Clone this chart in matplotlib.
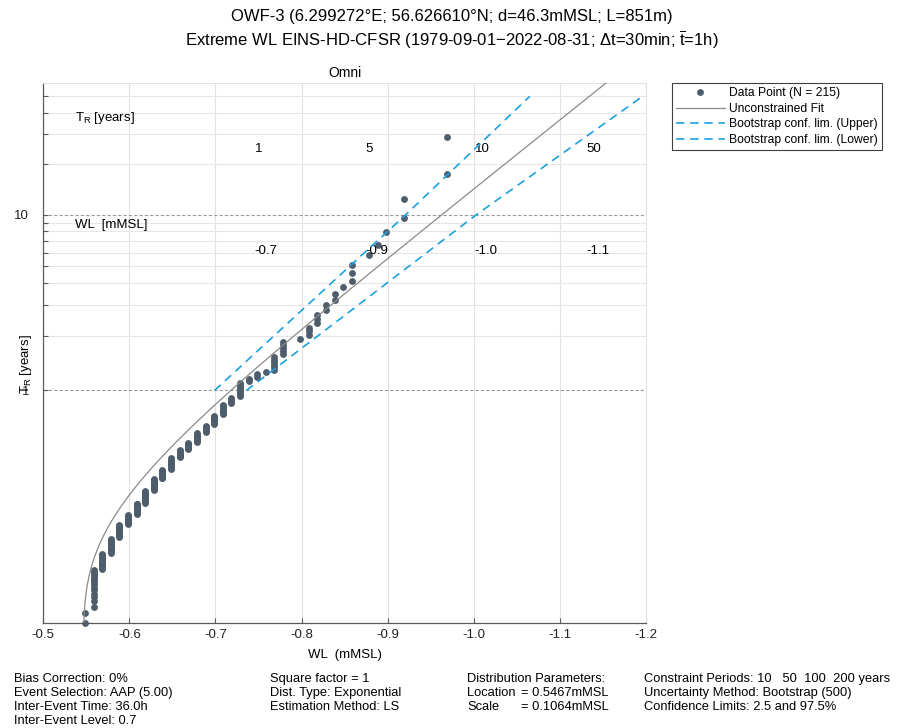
import numpy as np
import matplotlib
matplotlib.use("Agg")
import matplotlib.pyplot as plt
from matplotlib.ticker import FixedLocator, FixedFormatter, NullFormatter

plt.rcParams['font.family'] = ['Liberation Sans', 'DejaVu Sans']
plt.rcParams['mathtext.fontset'] = 'custom'
plt.rcParams['mathtext.rm'] = 'Liberation Sans'
plt.rcParams['mathtext.it'] = 'Liberation Sans:italic'
plt.rcParams['axes.unicode_minus'] = False

# ---------------- data ----------------
wl_levels = [-0.5485, -0.5585, -0.5685, -0.5785, -0.5885, -0.5985, -0.6085, -0.6185,
             -0.6285, -0.6385, -0.6485, -0.6585, -0.6685, -0.6785, -0.6885, -0.6985,
             -0.7085, -0.7185, -0.7285, -0.7385, -0.7485, -0.7585, -0.7685, -0.7785,
             -0.7985, -0.8085, -0.8185, -0.8285, -0.8385, -0.8485, -0.8585, -0.8785,
             -0.8885, -0.8985, -0.9185, -0.9685]
level_counts = [2, 14, 11, 13, 13, 11, 12, 14,
                12, 10, 11, 8, 6, 8, 6, 7,
                7, 4, 8, 2, 2, 1, 6, 5,
                1, 3, 3, 2, 2, 1, 3, 1,
                1, 1, 2, 2]

events_per_year = 5.0          # AAP (5.00)
plot_pos_offset = 1.5          # plotting position F = i / (N + offset)
fit_location = 0.5467          # mMSL
fit_scale = 0.1064             # mMSL
fit_T_max = 60.0

ci_T = [1, 10, 50]
ci_upper = [-0.699, -0.921, -1.065]
ci_lower = [-0.736, -1.003, -1.196]

label_periods = [1, 5, 10, 50]

x_ticks = [-0.5, -0.6, -0.7, -0.8, -0.9, -1.0, -1.1, -1.2]
y_major = [1, 10]
y_minor = [2, 3, 4, 5, 6, 7, 8, 9, 20, 30, 40, 50]

title_lines = ["OWF-3 (6.299272\u00b0E; 56.626610\u00b0N; d=46.3mMSL; L=851m)",
               "Extreme WL EINS-HD-CFSR (1979-09-01\u22122022-08-31; \u0394t=30min; $\\overline{\\mathrm{t}}$=1h)"]

info_col1 = ["Bias Correction: 0%", "Event Selection: AAP (5.00)",
             "Inter-Event Time: 36.0h", "Inter-Event Level: 0.7"]
info_col2 = ["Square factor = 1", "Dist. Type: Exponential", "Estimation Method: LS"]
info_col3 = ["Distribution Parameters:", "Location", "Scale"]
info_col3b = ["", "= 0.5467mMSL", "= 0.1064mMSL"]
info_col4 = ["Constraint Periods: 10   50  100  200 years",
             "Uncertainty Method: Bootstrap (500)",
             "Confidence Limits: 2.5 and 97.5%"]

# ---------------- derived ----------------
lam = events_per_year
wl = np.repeat(np.array(wl_levels), level_counts)
N = wl.size
rank = np.arange(1, N + 1)
F = rank / (N + plot_pos_offset)
T_data = 1.0 / (lam * (1.0 - F))


def fwd(T):
    T = np.asarray(T, dtype=float)
    with np.errstate(all='ignore'):
        p = np.clip(1.0 / (lam * T), 1e-300, 1 - 1e-15)
        return -np.log(-np.log1p(-p))


def inv(y):
    y = np.asarray(y, dtype=float)
    with np.errstate(all='ignore'):
        p = -np.expm1(-np.exp(-y))
        return 1.0 / (lam * p)


T_fit = np.geomspace(T_data.min(), fit_T_max, 600)
x_fit = -(fit_location + fit_scale * np.log(lam * T_fit))

# ---------------- figure ----------------
W, H = 904, 728
fig = plt.figure(figsize=(W / 100, H / 100), dpi=100)
ax = fig.add_axes([43.2 / W, (H - 623.3) / H, (646 - 43.2) / W, (623.3 - 83) / H])
ax.set_yscale('function', functions=(fwd, inv))
ax.set_xlim(-0.5, -1.2)
ax.set_ylim(T_data.min(), fit_T_max)

gray_dark = '#5a5a5a'
blue = '#1ba1e2'
pt_color = '#4e5d6c'

ax.set_axisbelow(True)
ax.xaxis.set_major_locator(FixedLocator(x_ticks))
ax.xaxis.set_major_formatter(FixedFormatter([f"{v:.1f}" for v in x_ticks]))
ax.yaxis.set_major_locator(FixedLocator(y_major))
ax.yaxis.set_major_formatter(FixedFormatter([str(v) for v in y_major]))
ax.yaxis.set_minor_locator(FixedLocator(y_minor))
ax.yaxis.set_minor_formatter(NullFormatter())

ax.grid(which='major', axis='x', color='#e2e2e2', lw=0.8)
ax.grid(which='minor', axis='y', color='#e6e6e6', lw=0.8)
ax.grid(which='major', axis='y', color='#9a9a9a', lw=0.8, linestyle=(0, (2.9, 1.9)))

ax.tick_params(axis='both', which='both', direction='in', color=gray_dark,
               labelsize=9.5, labelcolor='#222222', width=0.8)
ax.tick_params(axis='x', which='major', length=3.5, pad=4)
ax.tick_params(axis='y', which='both', length=3.5, pad=10)
for s in ['left', 'bottom']:
    ax.spines[s].set_color(gray_dark)
    ax.spines[s].set_linewidth(0.9)
for s in ['top', 'right']:
    ax.spines[s].set_color('#e2e2e2')
    ax.spines[s].set_linewidth(0.8)

ax.plot(wl, T_data, 'o', ms=3.9, color=pt_color, mec=pt_color, clip_on=False,
        label=f'Data Point (N = {N})', zorder=3)
ax.plot(x_fit, T_fit, '-', color='#8a8a8a', lw=0.9, label='Unconstrained Fit', zorder=4)
ax.plot(ci_upper, ci_T, color=blue, lw=1.2, linestyle=(0, (5, 3.5)),
        label='Bootstrap conf. lim. (Upper)', zorder=4)
ax.plot(ci_lower, ci_T, color=blue, lw=1.2, linestyle=(0, (5, 3.5)),
        label='Bootstrap conf. lim. (Lower)', zorder=4)

ax.set_xlabel('WL  (mMSL)', fontsize=9.5, labelpad=6)
ax.set_ylabel('T$_{\\mathrm{R}}$ [years]', fontsize=9.5)
ax.yaxis.set_label_coords(-0.016, 0.48)
ax.text(0.5, 1 + 10 / 540.3, 'Omni', transform=ax.transAxes, ha='center', va='center', fontsize=10)

# return level annotations
ax.text(0.053, 0.935, 'T$_{\\mathrm{R}}$ [years]', transform=ax.transAxes, ha='left', va='center', fontsize=9.5)
ax.text(0.053, 0.737, 'WL  [mMSL]', transform=ax.transAxes, ha='left', va='center', fontsize=9.5)
label_x = [0.351, 0.535, 0.716, 0.901]
for xf, tp in zip(label_x, label_periods):
    lvl = -(fit_location + fit_scale * np.log(lam * tp))
    ax.text(xf, 0.878, f"{tp}", transform=ax.transAxes, ha='left', va='center', fontsize=9.5)
    ax.text(xf, 0.689, f"{lvl:.1f}", transform=ax.transAxes, ha='left', va='center', fontsize=9.5)

leg = ax.legend(loc='upper left', bbox_to_anchor=(672 / W, 1 - 83 / H), bbox_transform=fig.transFigure,
                borderaxespad=0, fontsize=8.7, handlelength=4.0, handletextpad=0.35,
                borderpad=0.35, labelspacing=0.3, fancybox=False, framealpha=1)
leg.get_frame().set_edgecolor('#404040')
leg.get_frame().set_linewidth(0.8)

# titles
fig.text(0.5, 1 - 17 / H, title_lines[0], ha='center', va='center', fontsize=12)
fig.text(0.5, 1 - 40 / H, title_lines[1], ha='center', va='center', fontsize=12)

# info block
line_y = [679, 693, 707, 721]
for col, xpx in [(info_col1, 14), (info_col2, 270), (info_col3, 467), (info_col3b, 521), (info_col4, 644)]:
    for s, ypx in zip(col, line_y):
        if s:
            fig.text(xpx / W, 1 - ypx / H, s, ha='left', va='center', fontsize=9.3)

fig.savefig('out.png', dpi=100)
